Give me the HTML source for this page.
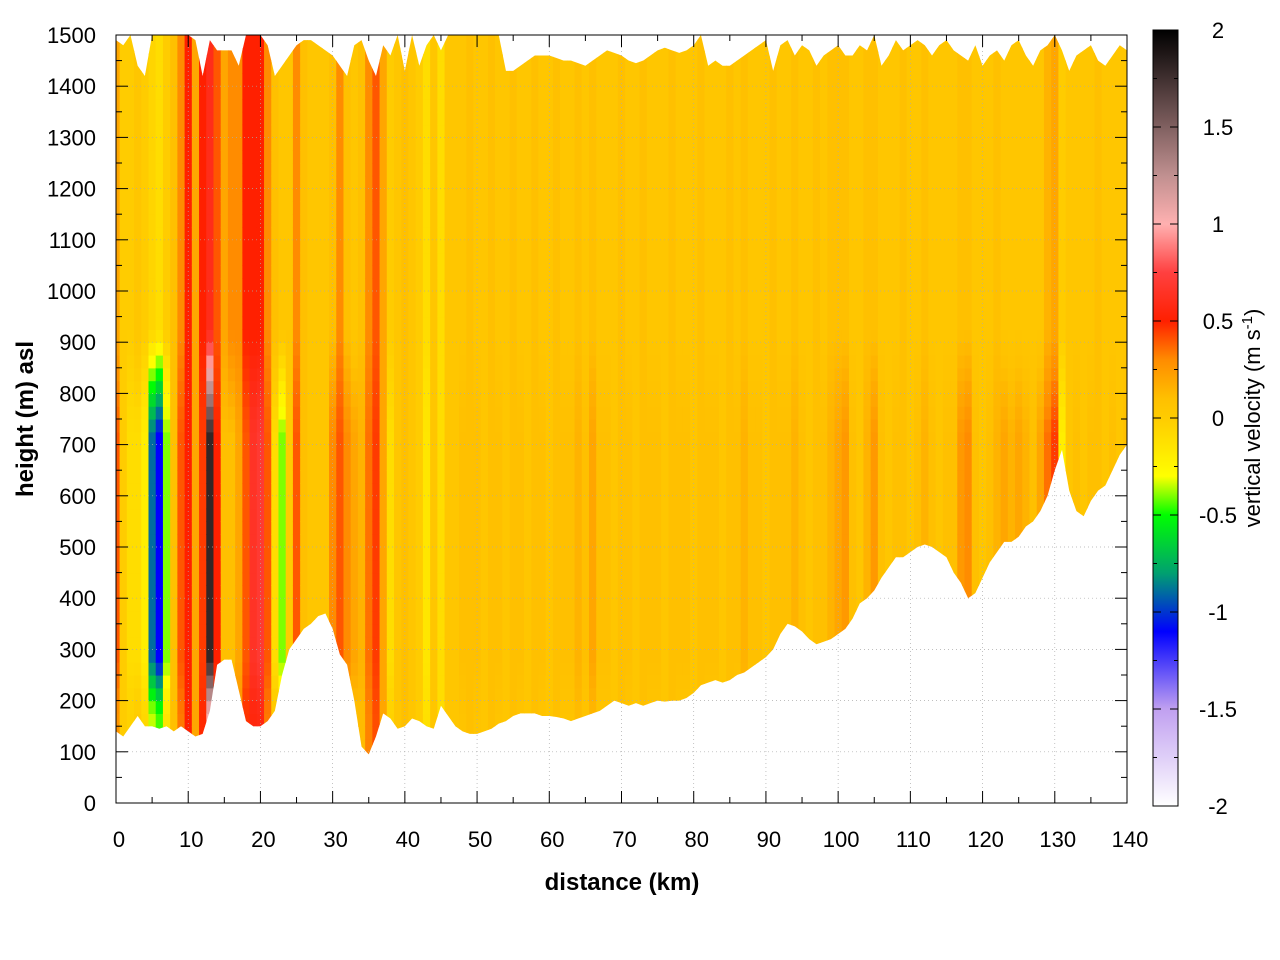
<!DOCTYPE html>
<html><head><meta charset="utf-8"><style>
body{margin:0;background:#fff;}
svg{display:block;font-family:"Liberation Sans",sans-serif;}
</style></head><body>
<svg id="chart" width="1280" height="960">
<defs>
<clipPath id="terrainclip"><path id="terrainpath" d=""/></clipPath>
<linearGradient id="cbgrad" x1="0" y1="1" x2="0" y2="0"></linearGradient>
</defs>
<g id="cells" clip-path="url(#terrainclip)"></g>
<g id="grid"></g>
<g id="axes"></g>
<text x="622" y="890" text-anchor="middle" font-size="24" font-weight="bold">distance (km)</text>
<text transform="translate(33,419) rotate(-90)" text-anchor="middle" font-size="24" font-weight="bold">height (m) asl</text>
<rect x="1153" y="30" width="25" height="776" fill="url(#cbgrad)" stroke="#000"/>
<g id="cbaxis"></g>
<text transform="translate(1260,418) rotate(-90)" text-anchor="middle" font-size="22">vertical velocity (m s<tspan baseline-shift="super" font-size="15">-1</tspan>)</text>
</svg>
<script>
const distances=[...Array(141).keys()];
const groundHeight=[140,130,150,170,150,150,145,150,140,150,140,130,135,180,270,280,280,220,160,150,150,160,180,250,300,320,340,350,365,370,340,290,270,200,110,95,130,175,165,145,150,165,160,150,145,190,170,150,140,135,135,140,145,155,160,170,175,175,175,170,170,168,165,160,165,170,175,180,190,200,195,190,195,190,195,200,198,200,200,205,215,230,235,240,235,240,250,255,265,275,285,300,330,350,345,335,320,310,315,320,330,340,360,390,400,415,440,460,480,480,490,500,505,500,490,480,450,430,400,410,440,470,490,510,510,520,540,550,570,600,650,690,610,570,560,590,610,620,650,680,700];
const topHeight=[1490,1480,1500,1440,1420,1500,1500,1500,1500,1500,1500,1490,1420,1490,1470,1470,1470,1440,1500,1500,1500,1480,1420,1440,1460,1480,1490,1490,1480,1470,1460,1440,1420,1480,1490,1450,1420,1480,1460,1500,1430,1500,1440,1480,1500,1470,1500,1500,1500,1500,1500,1500,1500,1500,1430,1430,1440,1450,1460,1460,1460,1455,1450,1450,1445,1440,1450,1460,1470,1465,1460,1450,1445,1450,1460,1470,1475,1470,1465,1470,1480,1500,1440,1450,1440,1440,1450,1460,1470,1480,1490,1430,1480,1490,1460,1480,1470,1440,1460,1470,1480,1460,1460,1480,1470,1500,1440,1460,1490,1470,1480,1490,1480,1460,1480,1490,1470,1460,1450,1480,1440,1460,1470,1450,1480,1490,1460,1440,1470,1480,1500,1470,1430,1460,1470,1480,1450,1440,1460,1480,1470];
const velLower=[0.4,0,-0.1,-0.1,-0.2,-0.9,-1.1,-0.4,0.1,0.4,0.5,0.2,0.45,1.8,0.5,0.1,0.1,0.2,0.4,0.65,0.7,0.4,-0.1,-0.4,0,0.4,0.1,0.05,0.05,0.05,0.3,0.4,0.3,0.2,0.15,0.35,0.45,0.2,-0.1,0.05,0.1,0.05,0,-0.15,0.05,-0.1,0.05,0.05,0.1,0.1,0.1,0.05,0.1,0.1,0.05,0.1,0.1,0.05,0.1,0.1,0.05,0.1,0.1,0.1,0.15,0.1,0.2,0.1,0.1,0.05,0.1,0.1,0.05,0.1,0.1,0.1,0.05,0.1,0.1,0.1,0.05,0.1,0.1,0.1,0.05,0.1,0.1,0.15,0.1,0.1,0.05,0.1,0.1,0.1,0.15,0.1,0.05,0.1,0.1,0.15,0.2,0.25,0.1,0.05,0.15,0.25,0.1,0.05,0.1,0.1,0.05,0.1,0.15,0.1,0.05,0.1,0.1,0.25,0.3,0.1,0.05,0.1,0.15,0.2,0.15,0.2,0.15,0.1,0.2,0.35,0.45,-0.2,0.05,0.1,0.05,0.1,0.1,0.05,0.1,0.05,0.1];
const velUpper=[0.2,0,0,0.05,0,-0.05,-0.1,0,0.1,0.3,0.5,0.2,0.5,0.6,0.4,0.2,0.3,0.3,0.5,0.5,0.5,0.3,0.1,0.05,0.05,0.3,0.1,0.05,0.05,0.05,0.1,0.3,0.1,0.05,0.1,0.3,0.4,0.2,0,0.05,0.1,0.05,0,-0.1,0.05,-0.1,0.05,0.05,0.05,0.1,0.05,0.05,0.1,0.05,0.05,0.1,0.05,0.05,0.1,0.05,0.05,0.1,0.05,0.05,0.1,0.05,0.1,0.05,0.05,0.05,0.1,0.05,0.05,0.1,0.05,0.05,0.05,0.1,0.05,0.05,0.05,0.1,0.05,0.05,0.05,0.1,0.05,0.1,0.05,0.05,0.05,0.1,0.05,0.05,0.1,0.05,0.05,0.1,0.05,0.1,0.1,0.1,0.05,0.05,0.1,0.1,0.05,0.05,0.05,0.1,0.05,0.05,0.1,0.05,0.05,0.05,0.05,0.1,0.1,0.05,0.05,0.05,0.1,0.05,0.05,0.05,0.05,0.05,0.05,0.15,0.2,0,0.05,0.05,0.05,0.05,0.1,0.05,0.05,0.05,0.05];
const xTicks=[0,10,20,30,40,50,60,70,80,90,100,110,120,130,140];
const yTicks=[0,100,200,300,400,500,600,700,800,900,1000,1100,1200,1300,1400,1500];
const cbTicks=[-2,-1.5,-1,-0.5,0,0.5,1,1.5,2];
const cmapVals=[-2,-1.5,-1.1,-0.8,-0.5,-0.3,0,0.1,0.3,0.5,0.75,1,1.25,1.5,2];
const cmapCols=['#ffffff','#c0a0f0','#0000ff','#00a070','#00ff00','#ffff00','#ffcc00','#ffc000','#ff8c00','#ff2000','#ff4040','#ffb0b0','#c09090','#806060','#000000'];

const NS='http://www.w3.org/2000/svg';
const X=d=>116+d*1011/140, Y=h=>803-h*768/1500;
const VY=v=>806-(v+2)*776/4;
function hex(c){return [1,3,5].map(i=>parseInt(c.substr(i,2),16));}
function color(v){
  if(v<=cmapVals[0])return cmapCols[0];
  for(let i=1;i<cmapVals.length;i++){if(v<=cmapVals[i]){const t=(v-cmapVals[i-1])/(cmapVals[i]-cmapVals[i-1]);const a=hex(cmapCols[i-1]),b=hex(cmapCols[i]);return 'rgb('+a.map((x,k)=>Math.round(x+(b[k]-x)*t)).join(',')+')';}}
  return cmapCols[cmapCols.length-1];
}
function mk(tag,attrs,parent){const e=document.createElementNS(NS,tag);for(const k in attrs)e.setAttribute(k,attrs[k]);parent.appendChild(e);return e;}
function bandWeight(h){
  if(h>=280&&h<=720)return 1;
  if(h>720)return Math.max(0,1-(h-720)/200);
  return Math.max(0.35,1-(280-h)/160);
}
let d='M'+X(0)+','+Y(topHeight[0]);
distances.forEach((k,i)=>{d+=' L'+X(k)+','+Y(topHeight[i]);});
for(let i=distances.length-1;i>=0;i--)d+=' L'+X(distances[i])+','+Y(groundHeight[i]);
d+='Z';
document.getElementById('terrainpath').setAttribute('d',d);
const cells=document.getElementById('cells');
const dh=25;
distances.forEach((k,i)=>{
  for(let h=0;h<1500;h+=dh){
    const w=bandWeight(h+dh/2);
    const v=velUpper[i]+(velLower[i]-velUpper[i])*w;
    const r=mk('rect',{x:X(k-0.5),y:Y(h+dh),width:1011/140+0.6,height:dh*768/1500+0.6,fill:color(v)},cells);
    
    
  }
});
const grid=document.getElementById('grid');
xTicks.slice(1,-1).forEach(t=>mk('line',{x1:X(t),x2:X(t),y1:35,y2:803,stroke:'#aaa','stroke-width':0.7,'stroke-dasharray':'1,3'},grid));
yTicks.slice(1,-1).forEach(t=>mk('line',{x1:116,x2:1127,y1:Y(t),y2:Y(t),stroke:'#aaa','stroke-width':0.7,'stroke-dasharray':'1,3'},grid));
const ax=document.getElementById('axes');
mk('rect',{x:116,y:35,width:1011,height:768,fill:'none',stroke:'#000'},ax);
for(let t=0;t<=140;t+=5){const L=t%10?6:12;mk('line',{x1:X(t),x2:X(t),y1:803,y2:803-L,stroke:'#000'},ax);mk('line',{x1:X(t),x2:X(t),y1:35,y2:35+L,stroke:'#000'},ax);}
for(let t=0;t<=1500;t+=50){const L=t%100?6:12;mk('line',{x1:116,x2:116+L,y1:Y(t),y2:Y(t),stroke:'#000'},ax);mk('line',{x1:1127,x2:1127-L,y1:Y(t),y2:Y(t),stroke:'#000'},ax);}
xTicks.forEach(t=>{const e=mk('text',{x:X(t)+3,y:847,'text-anchor':'middle','font-size':22},ax);e.textContent=t;});
yTicks.forEach(t=>{const e=mk('text',{x:96,y:Y(t)+8,'text-anchor':'end','font-size':22},ax);e.textContent=t;});
const g=document.getElementById('cbgrad');
for(let v=-2;v<=2.001;v+=0.05){mk('stop',{offset:((v+2)/4),'stop-color':color(v)},g);}
const cb=document.getElementById('cbaxis');
for(let v=-2;v<=2.001;v+=0.25){const L=Math.abs(v*2-Math.round(v*2))<1e-6?8:4;mk('line',{x1:1153,x2:1153+L,y1:VY(v),y2:VY(v),stroke:'#000'},cb);mk('line',{x1:1178,x2:1178-L,y1:VY(v),y2:VY(v),stroke:'#000'},cb);}
cbTicks.forEach(v=>{const e=mk('text',{x:1218,y:VY(v)+8,'text-anchor':'middle','font-size':22},cb);e.textContent=v;});
</script>
</body></html>
